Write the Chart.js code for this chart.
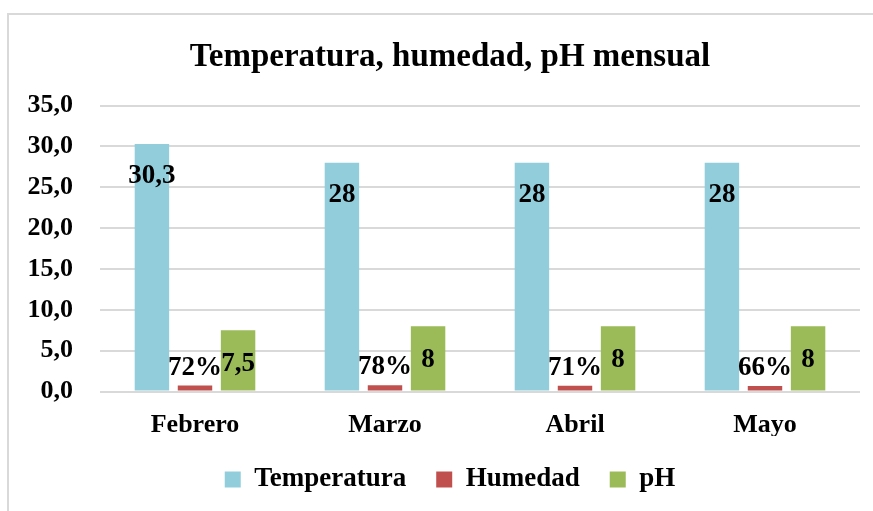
<!DOCTYPE html>
<html lang="es">
<head>
<meta charset="utf-8">
<title>Temperatura, humedad, pH mensual</title>
<script src="https://cdn.jsdelivr.net/npm/chart.js@4/dist/chart.umd.min.js"></script>
<style>
    html, body { margin: 0; padding: 0; background: #fff; overflow: hidden; }
    body { width: 873px; height: 511px; position: relative; }
    #marco {
        position: absolute; left: 7px; top: 13px;
        width: 950px; height: 600px;
        border: 2px solid #d9d9d9;
    }
    #contenedor { position: absolute; left: 0; top: 0; width: 900px; height: 511px; }
</style>
</head>
<body>
<div id="marco"></div>
<div id="contenedor"><canvas id="grafico"></canvas></div>
<script>
    // Datos
    const meses = ['Febrero', 'Marzo', 'Abril', 'Mayo'];
    const temperatura = [30.3, 28, 28, 28];
    const humedad = [0.72, 0.78, 0.71, 0.66];
    const ph = [7.5, 8, 8, 8];
    const etiquetasEjeY = ['0,0', '5,0', '10,0', '15,0', '20,0', '25,0', '30,0', '35,0'];

    const fuente = '"Liberation Serif", "Times New Roman", serif';

    const conComa = v => String(v).replace('.', ',');
    const porcentaje = v => Math.round(v * 100) + '%';

    // Etiquetas de datos dibujadas sobre las barras
    const etiquetasPlugin = {
        id: 'etiquetas',
        afterDatasetsDraw(chart) {
            const ctx = chart.ctx;
            ctx.save();
            ctx.font = 'bold 27px ' + fuente;
            ctx.fillStyle = '#000';
            ctx.textAlign = 'center';
            ctx.textBaseline = 'middle';
            chart.data.datasets.forEach((ds, i) => {
                const meta = chart.getDatasetMeta(i);
                meta.data.forEach((barra, j) => {
                    ctx.fillText(ds.formato(ds.data[j]), barra.x, barra.y + ds.desplazamiento);
                });
            });
            ctx.restore();
        }
    };

    new Chart(document.getElementById('grafico'), {
        type: 'bar',
        data: {
            labels: meses,
            datasets: [
                { label: 'Temperatura', data: temperatura, backgroundColor: '#92CDDC', formato: conComa, desplazamiento: 32 },
                { label: 'Humedad', data: humedad, backgroundColor: '#C0504D', formato: porcentaje, desplazamiento: -18 },
                { label: 'pH', data: ph, backgroundColor: '#9BBB59', formato: conComa, desplazamiento: 34 }
            ]
        },
        options: {
            responsive: true,
            maintainAspectRatio: false,
            animation: false,
            categoryPercentage: 0.68,
            barPercentage: 0.8,
            layout: { padding: { left: 0, right: 0, top: 0, bottom: 8 } },
            plugins: {
                title: {
                    display: true,
                    text: 'Temperatura, humedad, pH mensual',
                    color: '#000',
                    font: { family: fuente, size: 33, weight: 'bold' },
                    padding: { top: 38, bottom: 28 }
                },
                legend: {
                    position: 'bottom',
                    labels: {
                        color: '#000',
                        font: { family: fuente, size: 27, weight: 'bold' },
                        boxWidth: 16,
                        boxHeight: 16,
                        padding: 30
                    }
                },
                tooltip: { enabled: false }
            },
            scales: {
                x: {
                    grid: { display: false, drawTicks: false },
                    border: { display: false },
                    ticks: {
                        color: '#000',
                        font: { family: fuente, size: 26, weight: 'bold' },
                        padding: 18
                    },
                    afterFit: s => { s.height = 44.5; }
                },
                y: {
                    min: 0,
                    max: 35,
                    ticks: {
                        stepSize: 5,
                        color: '#000',
                        font: { family: fuente, size: 26, weight: 'bold' },
                        padding: 27,
                        callback: (v, i) => etiquetasEjeY[i]
                    },
                    grid: { color: '#d9d9d9', lineWidth: 2, drawTicks: false },
                    border: { display: false },
                    afterFit: s => { s.width = 100; }
                },
                derecha: {
                    type: 'linear',
                    position: 'right',
                    display: true,
                    grid: { display: false, drawTicks: false },
                    border: { display: false },
                    ticks: { display: false },
                    afterFit: s => { s.width = 40; }
                }
            }
        },
        plugins: [etiquetasPlugin]
    });
</script>
</body>
</html>
